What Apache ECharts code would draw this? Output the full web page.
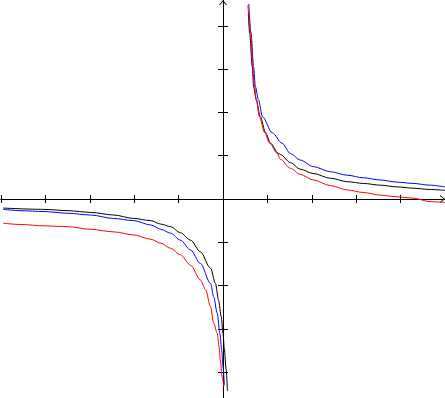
<!DOCTYPE html>
<html>
<head>
<meta charset="utf-8">
<script src="https://cdn.jsdelivr.net/npm/echarts@6/dist/echarts.min.js"></script>
<style>
  html, body { margin: 0; padding: 0; background: #fff; }
  #chart { width: 445px; height: 398px; }
</style>
</head>
<body>
<div id="chart"></div>
<script>
// points, [x, y]; each curve has two branches
const blackLower = [
  [-4.95, -0.21], [-4.03, -0.24], [-3.49, -0.27], [-2.98, -0.31], [-2.46, -0.37],
  [-2.01, -0.45], [-1.63, -0.50], [-1.40, -0.58], [-1.18, -0.64], [-0.96, -0.78],
  [-0.73, -0.95], [-0.51, -1.22], [-0.28, -1.60], [-0.17, -1.95], [-0.10, -2.34],
  [-0.04, -2.72], [0.00, -3.10], [0.03, -3.47], [0.07, -3.93], [0.10, -4.43]
]
const blackUpper = [
  [0.57, 4.30], [0.60, 3.84], [0.66, 3.05], [0.69, 2.59], [0.75, 2.29],
  [0.84, 1.90], [0.96, 1.53], [1.07, 1.29], [1.24, 1.06], [1.29, 1.03],
  [1.52, 0.84], [1.74, 0.69], [2.03, 0.59], [2.42, 0.48], [2.80, 0.40],
  [3.16, 0.36], [3.54, 0.32], [3.92, 0.28], [4.28, 0.25], [4.66, 0.22], [5.00, 0.20]
]
const blueLower = [
  [-4.95, -0.24], [-4.55, -0.27], [-4.03, -0.29], [-3.49, -0.33], [-2.98, -0.37],
  [-2.46, -0.45], [-2.01, -0.50], [-1.63, -0.60], [-1.40, -0.70], [-1.18, -0.79],
  [-0.96, -0.95], [-0.73, -1.18], [-0.51, -1.49], [-0.28, -1.95], [-0.21, -2.26],
  [-0.13, -2.64], [-0.07, -3.11], [-0.03, -3.49], [0.00, -3.88], [0.03, -4.30]
]
const blueUpper = [
  [0.58, 4.51], [0.63, 3.84], [0.69, 3.05], [0.73, 2.59], [0.80, 2.29],
  [0.89, 1.90], [1.11, 1.53], [1.33, 1.29], [1.52, 1.05], [1.74, 0.90],
  [2.03, 0.75], [2.42, 0.63], [2.80, 0.55], [3.16, 0.49], [3.54, 0.44],
  [3.92, 0.39], [4.28, 0.36], [4.66, 0.32], [5.00, 0.28]
]
const redLower = [
  [-4.95, -0.56], [-4.55, -0.59], [-4.03, -0.62], [-3.49, -0.64], [-2.98, -0.70],
  [-2.46, -0.76], [-2.01, -0.83], [-1.63, -0.93], [-1.40, -1.02], [-1.18, -1.14],
  [-0.96, -1.29], [-0.73, -1.53], [-0.51, -1.87], [-0.39, -2.10], [-0.28, -2.49],
  [-0.21, -2.87], [-0.13, -3.10], [-0.09, -3.41], [-0.06, -3.72], [-0.02, -4.11], [0.02, -4.34]
]
const redUpper = [
  [0.56, 4.48], [0.63, 3.84], [0.67, 3.05], [0.71, 2.59], [0.75, 2.29],
  [0.82, 1.90], [0.94, 1.53], [1.05, 1.29], [1.22, 1.06], [1.29, 0.92],
  [1.52, 0.71], [1.74, 0.57], [2.03, 0.44], [2.42, 0.31], [2.80, 0.21],
  [3.16, 0.15], [3.54, 0.09], [3.92, 0.05], [4.28, 0.02], [4.66, -0.06], [5.00, -0.08]
]
const yTicks = [-4, -3, -2, -1, 1, 2, 3, 4]

// open chevron, tip up (echarts rotates it along the axis)
const chevron = 'path://M5,0 L10,6 L8.6,6 L5,1.6 L1.4,6 L0,6 Z'

const chart = echarts.init(document.getElementById('chart'), null, { renderer: 'canvas' })

const axisBase = {
  type: 'value',
  axisLabel: { show: false },
  splitLine: { show: false },
  axisLine: { onZero: true, lineStyle: { color: '#000', width: 1 } }
}

// two axes per direction so the ticks cross the line on both sides
const xAxes = ['bottom', 'top'].map((pos, i) => ({
  ...axisBase,
  position: pos,
  min: -5,
  max: 5,
  interval: 1,
  axisLine: {
    ...axisBase.axisLine,
    symbol: i === 0 ? ['none', chevron] : 'none',
    symbolSize: [8, 5],
    symbolOffset: [0, -2.5]
  },
  axisTick: { show: true, inside: false, length: 4, lineStyle: { color: '#000' } }
}))

const yAxes = ['left', 'right'].map((pos, i) => ({
  ...axisBase,
  position: pos,
  min: -4.6,
  max: 4.6,
  axisLine: {
    ...axisBase.axisLine,
    symbol: i === 0 ? ['none', chevron] : 'none',
    symbolSize: [8, 5],
    symbolOffset: [0, -2.5]
  },
  axisTick: { show: true, inside: false, length: 5, customValues: yTicks, lineStyle: { color: '#000' } }
}))

const line = (data, color) => ({
  type: 'line',
  data,
  xAxisIndex: 0,
  yAxisIndex: 0,
  showSymbol: false,
  smooth: 0.3,
  smoothMonotone: 'x',
  lineStyle: { color, width: 1 },
  itemStyle: { color },
  silent: true
})

chart.setOption({
  animation: false,
  // shifted one pixel so the axes land on the same pixel columns as the original
  grid: { left: 1, right: -1, top: 0, bottom: 0, containLabel: false },
  xAxis: xAxes,
  yAxis: yAxes,
  series: [
    line(blackLower, '#000000'),
    line(blackUpper, '#000000'),
    line(blueLower, '#0000ff'),
    line(blueUpper, '#0000ff'),
    line(redLower, '#ff0000'),
    line(redUpper, '#ff0000')
  ]
})
</script>
</body>
</html>
